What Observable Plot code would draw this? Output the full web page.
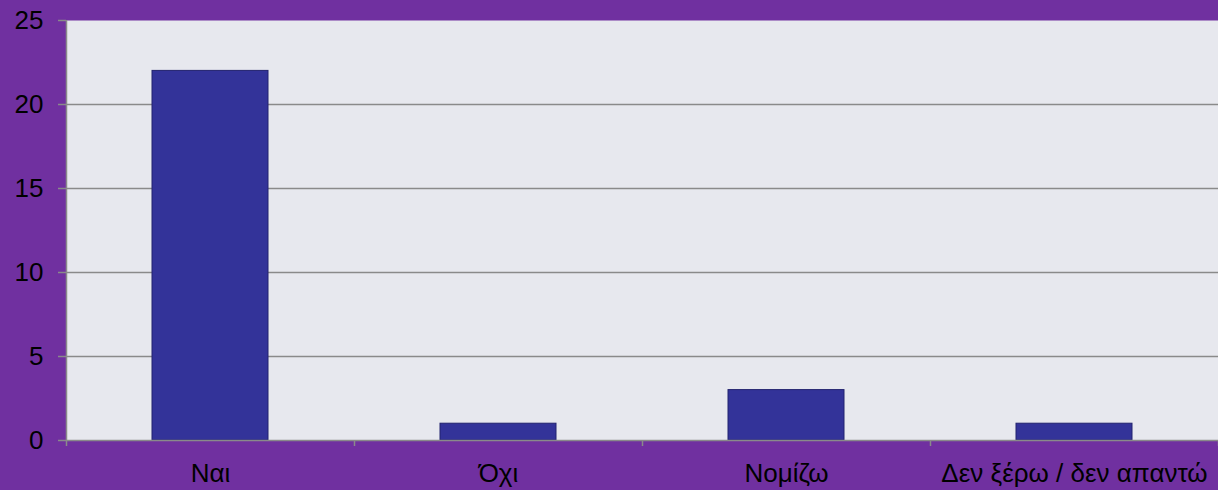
<!DOCTYPE html>
<html>
<head>
<meta charset="utf-8">
<script src="https://cdn.jsdelivr.net/npm/d3@7"></script>
<script src="https://cdn.jsdelivr.net/npm/@observablehq/plot@0.6"></script>
<style>
  html, body { margin: 0; padding: 0; background: #7030A0; }
  #chart svg { display: block; }
</style>
</head>
<body>
<div id="chart"></div>
<script>
const categories = ["Ναι", "Όχι", "Νομίζω", "Δεν ξέρω / δεν απαντώ"];
const values = [22, 1, 3, 1];
const yTicks = [0, 5, 10, 15, 20, 25];
const gridValues = [5, 10, 15, 20];

const data = categories.map((c, i) => ({category: c, index: i, value: values[i]}));
const boundaries = d3.range(categories.length + 1);
const centers = categories.map((c, i) => i + 0.5);

const chart = Plot.plot({
  width: 1218,
  height: 490,
  marginTop: 20,
  marginBottom: 50,
  marginLeft: 66,
  marginRight: 0,
  style: {
    background: "#7030A0",
    fontFamily: "'Liberation Sans', Arial, sans-serif",
    fontSize: "26px",
    color: "#000"
  },
  x: {type: "linear", domain: [0, categories.length]},
  y: {domain: [0, 25]},
  marks: [
    Plot.frame({fill: "#E7E8EE", stroke: null}),
    Plot.ruleY(gridValues, {stroke: "#8a8a8a", strokeWidth: 1.3}),
    Plot.rectY(data, {
      x1: d => d.index,
      x2: d => d.index + 1,
      y: "value",
      insetLeft: 86,
      insetRight: 86,
      fill: "#333399",
      stroke: "#22226e",
      strokeWidth: 1
    }),
    Plot.ruleX([0], {stroke: "#8a8a8a", strokeWidth: 1.5}),
    Plot.ruleY([0], {stroke: "#8a8a8a", strokeWidth: 1.5}),
    Plot.axisY({
      ticks: yTicks,
      tickSize: 8,
      tickPadding: 15,
      fontSize: 26,
      stroke: "#8a8a8a",
      strokeWidth: 1.5,
      fill: "#000",
      label: null
    }),
    Plot.axisX({
      ticks: boundaries,
      tickSize: 6,
      tickFormat: () => "",
      stroke: "#8a8a8a",
      strokeWidth: 1.5,
      label: null
    }),
    Plot.axisX({
      ticks: centers,
      tickSize: 0,
      tickPadding: 23,
      fontSize: 26,
      tickFormat: v => categories[Math.floor(v)],
      fill: "#000",
      label: null
    })
  ]
});
document.getElementById("chart").appendChild(chart);
</script>
</body>
</html>
